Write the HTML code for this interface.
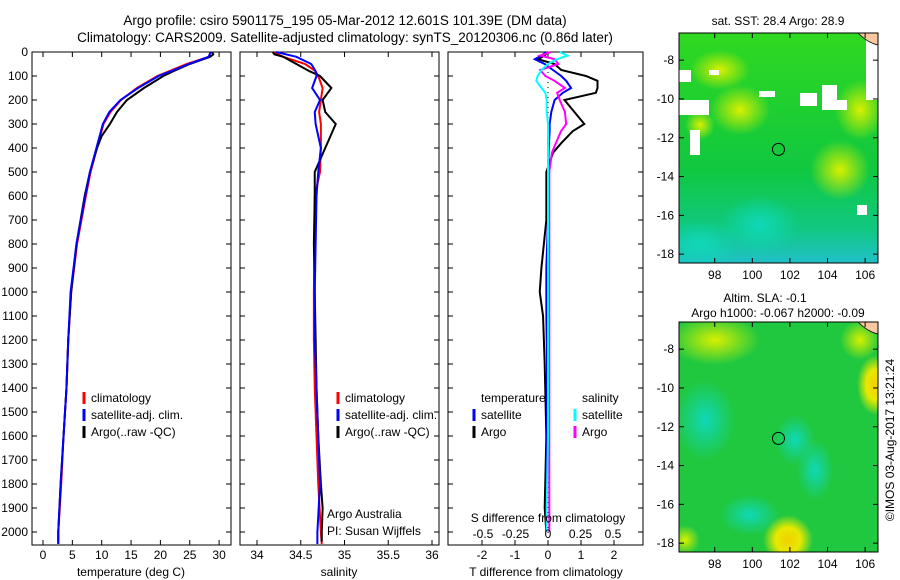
<!DOCTYPE html>
<html><head><meta charset="utf-8"><style>
body{margin:0;background:#fff}
svg{display:block;font-family:"Liberation Sans",sans-serif;font-size:12px}
</style></head><body>
<svg id="s" width="900" height="580" xmlns="http://www.w3.org/2000/svg">
<defs>
<radialGradient id="gy"><stop offset="0" stop-color="#d8f000"/><stop offset="1" stop-color="#d8f000" stop-opacity="0"/></radialGradient>
<radialGradient id="gc"><stop offset="0" stop-color="#10d8b8"/><stop offset="1" stop-color="#10d8b8" stop-opacity="0"/></radialGradient>
<radialGradient id="go"><stop offset="0" stop-color="#f0d000"/><stop offset="0.5" stop-color="#e8e800"/><stop offset="1" stop-color="#e8e800" stop-opacity="0"/></radialGradient>
<linearGradient id="sstg" x1="0" y1="0" x2="0" y2="1"><stop offset="0" stop-color="#30d820"/><stop offset="0.6" stop-color="#10c840"/><stop offset="0.85" stop-color="#10c880"/><stop offset="1" stop-color="#20c0c8"/></linearGradient>
<clipPath id="c1"><rect x="679" y="33" width="199" height="230"/></clipPath>
<clipPath id="c2"><rect x="679" y="322" width="199" height="230"/></clipPath>
</defs>
<text x="345" y="25" text-anchor="middle" font-size="13.5">Argo profile: csiro 5901175_195 05-Mar-2012 12.601S 101.39E (DM data)</text>
<text x="345" y="42" text-anchor="middle" font-size="13.5">Climatology: CARS2009. Satellite-adjusted climatology: synTS_20120306.nc (0.86d later)</text>
<g id="g"></g>
</svg>
<script>
// ---- data ----
const depthTicks=[0,100,200,300,400,500,600,700,800,900,1000,1100,1200,1300,1400,1500,1600,1700,1800,1900,2000];
const tTicks=[0,5,10,15,20,25,30];
const sTicks=[34,34.5,35,35.5,36];
const dTicks=[-2,-1,0,1,2];
const dsTicks=[-0.5,-0.25,0,0.25,0.5];
const dsTickLabels=["-0.5","-0.25","0","0.25","0.5"];
const climDepth=[0,20,50,80,100,150,200,250,300,400,500,600,800,1000,1200,1400,1600,1800,2000,2050];
const climT=[28.5,28.3,24.5,21.5,19.5,16,13.3,11.5,10.3,9.2,8.1,7.3,5.8,4.8,4.3,4.0,3.5,3.1,2.6,2.6];
const satT=[28.6,28.2,24.8,21.8,19.7,16.2,13.2,11.3,10.2,9.1,8.0,7.2,5.7,4.7,4.3,4.0,3.5,3.0,2.6,2.6];
const argoDepth=[0,10,20,50,80,100,150,200,250,300,350,400,500,600,800,1000,1200,1400,1600,1800,1900,2000,2040];
const argoT=[28.8,29,28.5,25,22.2,20.5,17.2,14.3,12.6,11.4,10,9.2,8,7.1,5.7,4.8,4.3,4,3.5,3,2.8,2.6,2.6];
const climS=[34.18,34.3,34.55,34.67,34.7,34.75,34.73,34.71,34.73,34.73,34.72,34.66,34.66,34.65,34.65,34.66,34.68,34.7,34.73,34.74];
const satS=[34.22,34.45,34.62,34.67,34.68,34.63,34.72,34.66,34.67,34.73,34.7,34.68,34.67,34.66,34.66,34.68,34.7,34.72,34.69,34.69];
const argoS=[34.18,34.2,34.3,34.45,34.6,34.72,34.85,34.75,34.78,34.9,34.84,34.78,34.66,34.66,34.65,34.66,34.67,34.68,34.7,34.73,34.75,34.74,34.74];
const diffDepth=[0,15,30,50,75,100,120,150,170,200,250,300,330,380,420,500,700,900,1000,1100,1300,1600,1900,2000];
const dTsat=[-0.05,-0.2,-0.4,-0.1,0.15,0.4,0.55,0.7,0.45,0.2,0.1,0.05,0.05,0.03,0.02,0,0,-0.05,-0.05,-0.05,-0.03,-0.03,-0.05,-0.05];
const dTargo=[0,-0.1,-0.3,0.2,0.4,1.15,1.5,1.5,1.45,0.5,0.8,1.1,0.75,0.4,0.15,-0.05,-0.05,-0.2,-0.25,-0.15,-0.1,-0.05,-0.1,-0.05];
const dSsat=[0.09,0.15,0.07,0,-0.05,-0.08,-0.09,-0.05,-0.02,-0.01,-0.01,0,0,0,0,0,0,0,0,0,0,0,-0.01,-0.01];
const dSargo=[0.02,-0.06,0.05,0.08,-0.06,-0.02,0.05,0.13,0.07,0.09,0.13,0.14,0.1,0.06,0.03,0.01,0.01,0.01,0.01,0.01,0.01,0.01,0.01,0.01];
const lonTicks=[98,100,102,104,106];
const latTicks=[-8,-10,-12,-14,-16,-18];
const argoLon=101.39, argoLat=-12.6;

// ---- scales ----
const NS="http://www.w3.org/2000/svg";
const G=document.getElementById('g');
const Y=d=>52+d*0.24;
const XT=t=>43+t*5.87;
const XS=s=>257+(s-34)*87.5;
const XD=t=>548+t*33;
const XDS=s=>548+s*130;
const LON=l=>679+(l-96.1)*18.8;
const LAT1=l=>33+(-6.6-l)*19.4;
const LAT2=l=>322+(-6.6-l)*19.4;
function el(tag,attrs,txt,parent){const e=document.createElementNS(NS,tag);for(const k in attrs)e.setAttribute(k,attrs[k]);if(txt!==undefined)e.textContent=txt;(parent||G).appendChild(e);return e;}
function line(depths,vals,X,color,name,w){
  const p=el('polyline',{points:vals.map((v,i)=>X(v)+','+Y(depths[i])).join(' '),fill:'none',stroke:color,'stroke-width':w||2});
  
  
}
function frame(x1,x2,name){
  const r=el('rect',{x:x1,y:52,width:x2-x1,height:493,fill:'#fff',stroke:'#000'});
  
  
}
function xtick(x,lab,name,y0,y1,ly){
  el('line',{x1:x,x2:x,y1:y0,y2:y0+5,stroke:'#000'});
  el('line',{x1:x,x2:x,y1:y1,y2:y1-5,stroke:'#000'});
  const t=el('text',{x:x,y:ly,'text-anchor':'middle'},lab);
  
  
}
function label(x,y,txt,name,anchor){
  const t=el('text',{x:x,y:y,'text-anchor':anchor||'start'},txt);
  
  
}
function legend(x,y,color,txt,name){
  el('line',{x1:x,x2:x,y1:y-10,y2:y+2,stroke:color,'stroke-width':3});
  label(x+7,y,txt,name);
}

// panels
frame(32,231,'temperature-panel');
frame(240,439,'salinity-panel');
frame(448,643,'difference-panel');
depthTicks.forEach(d=>{
  [32,240,448].forEach(x=>el('line',{x1:x,x2:x+5,y1:Y(d),y2:Y(d),stroke:'#000'}));
  [231,439,643].forEach(x=>el('line',{x1:x,x2:x-5,y1:Y(d),y2:Y(d),stroke:'#000'}));
  label(28,Y(d)+4,String(d),'depth-tick-label','end');
});
tTicks.forEach(t=>xtick(XT(t),String(t),'temperature-tick-label',52,545,559));
sTicks.forEach(s=>xtick(XS(s),String(s),'salinity-tick-label',52,545,559));
dTicks.forEach(t=>xtick(XD(t),String(t),'t-diff-tick-label',52,545,559));
label(131,576,'temperature (deg C)','x-axis-title-temperature','middle');
label(339,576,'salinity','x-axis-title-salinity','middle');
label(546,576,'T difference from climatology','x-axis-title-t-diff','middle');

// zero dotted line
const z=el('line',{x1:XD(0),x2:XD(0),y1:52,y2:545,stroke:'#000','stroke-dasharray':'1,4'});



// series
line(climDepth,climT,XT,'#f00','temperature-climatology-line');
line(argoDepth,argoT,XT,'#000','temperature-argo-line');
line(climDepth,satT,XT,'#00f','temperature-satellite-line');
line(climDepth,climS,XS,'#f00','salinity-climatology-line');
line(argoDepth,argoS,XS,'#000','salinity-argo-line');
line(climDepth,satS,XS,'#00f','salinity-satellite-line');
line(diffDepth,dTargo,XD,'#000','t-diff-argo-line');
line(diffDepth,dTsat,XD,'#00f','t-diff-satellite-line');
line(diffDepth,dSargo,XDS,'#f0f','s-diff-argo-line');
line(diffDepth,dSsat,XDS,'#0ff','s-diff-satellite-line');

dsTicks.forEach((s,i)=>label(XDS(s),538,dsTickLabels[i],'s-diff-tick-label','middle'));
label(548,522,'S difference from climatology','s-diff-axis-title','middle');

// legends
legend(84,402,'#f00','climatology','legend-climatology');
legend(84,419,'#00f','satellite-adj. clim.','legend-satellite-adj');
legend(84,436,'#000','Argo(..raw -QC)','legend-argo');
legend(338,402,'#f00','climatology','legend-climatology-2');
legend(338,419,'#00f','satellite-adj. clim.','legend-satellite-adj-2');
legend(338,436,'#000','Argo(..raw -QC)','legend-argo-2');
label(481,402,'temperature','legend-temperature-heading');
legend(474,419,'#00f','satellite','legend-t-satellite');
legend(474,436,'#000','Argo','legend-t-argo');
label(582,402,'salinity','legend-salinity-heading');
legend(575,419,'#0ff','satellite','legend-s-satellite');
legend(575,436,'#f0f','Argo','legend-s-argo');
label(327,518,'Argo Australia','institution-label');
label(327,535,'PI: Susan Wijffels','pi-label');

// maps
function map(top,bottom,LAT,name,kind,clip){
  const g=el('g',{'clip-path':'url(#'+clip+')'});
  const r=el('rect',{x:679,y:top,width:199,height:bottom-top,fill:kind==='sst'?'url(#sstg)':'#20c840',stroke:'none'},undefined,g);
  
  
  if(kind==='sst'){
    [[720,70,30,20,'gy'],[860,110,25,30,'gy'],[700,125,15,15,'gy'],[840,170,30,30,'gy'],[740,110,30,25,'gy'],[760,225,40,30,'gc'],[700,245,40,25,'gc']].forEach(b=>el('ellipse',{cx:b[0],cy:b[1],rx:b[2],ry:b[3],fill:'url(#'+b[4]+')'},undefined,g));
    [[679,100,30,15],[679,70,12,12],[709,70,10,5],[800,93,17,13],[822,85,15,25],[835,100,12,10],[866,40,12,60],[690,130,10,25],[857,205,10,10],[759,91,16,6]].forEach(b=>el('rect',{x:b[0],y:b[1],width:b[2],height:b[3],fill:'#fff'},undefined,g));
  } else {
    [[715,340,45,25,'gy'],[860,340,20,20,'gy'],[875,385,18,30,'go'],[788,540,25,25,'go'],[685,540,15,15,'gy'],[705,420,30,40,'gc'],[750,515,30,20,'gc'],[815,470,18,30,'gc'],[795,440,20,25,'gc']].forEach(b=>el('ellipse',{cx:b[0],cy:b[1],rx:b[2],ry:b[3],fill:'url(#'+b[4]+')'},undefined,g));
  }
  el('path',{d:'M858 '+top+' L878 '+top+' L878 '+(top+12)+' Q868 '+(top+10)+' 858 '+top+'Z',fill:'#f8c8a0',stroke:'#000','stroke-width':0.7},undefined,g);
  el('rect',{x:679,y:top,width:199,height:bottom-top,fill:'none',stroke:'#000'});
  lonTicks.forEach(l=>{
    el('line',{x1:LON(l),x2:LON(l),y1:top,y2:top+5,stroke:'#000'});
    el('line',{x1:LON(l),x2:LON(l),y1:bottom,y2:bottom-5,stroke:'#000'});
    label(LON(l),bottom+16,String(l),'longitude-tick-label','middle');
  });
  latTicks.forEach(l=>{
    el('line',{x1:679,x2:684,y1:LAT(l),y2:LAT(l),stroke:'#000'});
    el('line',{x1:878,x2:873,y1:LAT(l),y2:LAT(l),stroke:'#000'});
    label(674,LAT(l)+4,String(l),'latitude-tick-label','end');
  });
  const c=el('circle',{cx:LON(argoLon),cy:LAT(argoLat),r:6,fill:'none',stroke:'#000'});
  
  
}
map(33,263,LAT1,'sst-map','sst','c1');
map(322,552,LAT2,'sla-map','sla','c2');
label(778,25,'sat. SST: 28.4  Argo: 28.9','sst-map-title','middle');
label(765,302,'Altim. SLA: -0.1','sla-map-title','middle');
label(778,317,'Argo h1000: -0.067 h2000: -0.09','sla-map-subtitle','middle');
const cr=el('text',{x:0,y:0,'text-anchor':'middle',transform:'translate(894,440) rotate(-90)'},'©IMOS 03-Aug-2017 13:21:24');


</script>
</body></html>
